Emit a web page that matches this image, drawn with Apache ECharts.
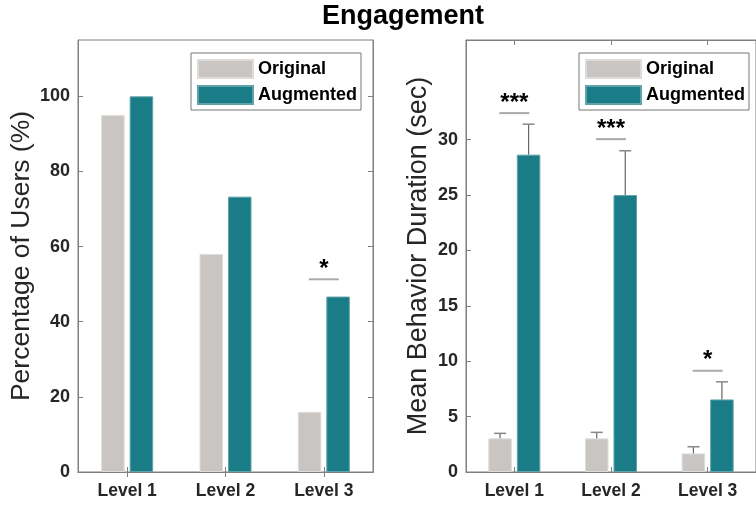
<!DOCTYPE html>
<html>
<head>
<meta charset="utf-8">
<script src="https://cdn.jsdelivr.net/npm/echarts@6/dist/echarts.min.js"></script>
<style>
html, body { margin: 0; padding: 0; background: #fff; }
#main { width: 756px; height: 505px; }
</style>
</head>
<body>
<div id="main"></div>
<script>
var categories = ['Level 1', 'Level 2', 'Level 3'];
var seriesNames = ['Original', 'Augmented'];

// left: percentage of users
var pctTicks = [0, 20, 40, 60, 80, 100];
var pctOriginal = [95, 58, 16];
var pctAugmented = [100, 73.3, 46.7];
var pctSig = [[2, 51.3, '*']];

// right: mean behavior duration
var durTicks = [0, 5, 10, 15, 20, 25, 30];
var durOriginal = [3.04, 3.04, 1.68];
var durOriginalErr = [0.45, 0.54, 0.6];
var durAugmented = [28.65, 25.0, 6.55];
var durAugmentedErr = [2.75, 4.0, 1.59];
var durSig = [[0, 32.4, '***'], [1, 30.05, '***'], [2, 9.14, '*']];

var FONT = 'Liberation Sans, Arial, Helvetica, sans-serif';
var TXT = '#262626';
var AXC = '#808080';
var BAR_W = 23.5;
var GAP_PX = 5;
var OFF = (BAR_W + GAP_PX) / 2;

var myChart = echarts.init(document.getElementById('main'));

function errItems(vals, errs) {
	var out = [];
	for (var i = 0; i < vals.length; i++) out.push([i, vals[i], errs[i]]);
	return out;
}

function errRender(shift) {
	return function (params, api) {
		var c = api.value(0), v = api.value(1), e = api.value(2);
		var p0 = api.coord([c, v]);
		var p1 = api.coord([c, v + e]);
		var x = p0[0] + shift;
		return {
			type: 'group',
			children: [
				{ type: 'line', shape: { x1: x, y1: p0[1], x2: x, y2: p1[1] }, style: { stroke: '#666', lineWidth: 1.2 } },
				{ type: 'line', shape: { x1: x - 6, y1: p1[1], x2: x + 6, y2: p1[1] }, style: { stroke: '#888', lineWidth: 1.5 } }
			]
		};
	};
}

function sigRender(params, api) {
	var p = api.coord([api.value(0), api.value(1)]);
	var lbl = api.value(2);
	return {
		type: 'group',
		children: [
			{ type: 'line', shape: { x1: p[0] - 15, y1: p[1], x2: p[0] + 15, y2: p[1] }, style: { stroke: '#aaa', lineWidth: 2 } },
			{ type: 'text', x: p[0], y: p[1] - 10, style: { text: lbl, fontSize: 24, fontWeight: 'bold', fontFamily: FONT, fill: '#000', align: 'center', verticalAlign: 'middle' } }
		]
	};
}

function catAxis(grid, pos, labels) {
	return {
		type: 'category', gridIndex: grid, position: pos, data: categories,
		axisLine: { show: true, lineStyle: { color: AXC, width: 1 } },
		axisTick: { show: true, inside: true, alignWithLabel: true, length: 5, lineStyle: { color: AXC } },
		axisLabel: { show: labels, margin: 10, fontSize: 17.5, fontWeight: 'bold', color: TXT, fontFamily: FONT },
		splitLine: { show: false }
	};
}

function valAxis(grid, pos, max, ticks, labels, name, gap, nameSize) {
	return {
		type: 'value', gridIndex: grid, position: pos, min: 0, max: max,
		name: name, nameLocation: 'middle', nameGap: gap,
		nameTextStyle: { fontSize: nameSize, color: TXT, fontFamily: FONT },
		axisLine: { show: true, lineStyle: { color: AXC, width: 1 } },
		axisTick: { show: true, inside: true, length: 5, customValues: ticks, lineStyle: { color: AXC } },
		axisLabel: { show: labels, customValues: ticks, margin: 8, fontSize: 18, fontWeight: 'bold', color: TXT, fontFamily: FONT },
		splitLine: { show: false }
	};
}

function legendAt(left) {
	return {
		data: seriesNames, orient: 'vertical', left: left, top: 53,
		padding: [6, 4, 5, 6], itemWidth: 55, itemHeight: 18, itemGap: 6,
		icon: 'rect', borderColor: '#777', borderWidth: 1, backgroundColor: '#fff',
		textStyle: { fontSize: 18, fontWeight: 'bold', color: '#000', fontFamily: FONT },
		selectedMode: false
	};
}

var origStyle = { color: '#c8c5c2', borderColor: '#dedcda', borderWidth: 1 };
var augStyle = { color: '#1a7c86', borderColor: '#5fa3a9', borderWidth: 1 };

var option = {
	backgroundColor: '#fff',
	animation: false,
	textStyle: { fontFamily: FONT },
	title: {
		text: 'Engagement', left: 322, top: 3, padding: 0,
		textStyle: { fontSize: 27, fontWeight: 'bold', color: '#000', fontFamily: FONT }
	},
	legend: [legendAt(191), legendAt(579)],
	grid: [
		{ left: 78, top: 40, right: 383, bottom: 33, show: true, borderColor: AXC, borderWidth: 1 },
		{ left: 466, top: 40, right: -7, bottom: 33, show: true, borderColor: AXC, borderWidth: 1 }
	],
	xAxis: [
		catAxis(0, 'bottom', true),
		catAxis(0, 'top', false),
		catAxis(1, 'bottom', true),
		catAxis(1, 'top', false)
	],
	yAxis: [
		valAxis(0, 'left', 115, pctTicks, true, 'Percentage of Users (%)', 43, 26.5),
		valAxis(0, 'right', 115, pctTicks, false, '', 0, 12),
		valAxis(1, 'left', 39, durTicks, true, 'Mean Behavior Duration (sec)', 34, 27)
	],
	series: [
		{ name: 'Original', type: 'bar', xAxisIndex: 0, yAxisIndex: 0, data: pctOriginal, barWidth: BAR_W, barGap: (GAP_PX / BAR_W * 100) + '%', itemStyle: origStyle },
		{ name: 'Augmented', type: 'bar', xAxisIndex: 0, yAxisIndex: 0, data: pctAugmented, barWidth: BAR_W, itemStyle: augStyle },
		{ name: 'Original', type: 'bar', xAxisIndex: 2, yAxisIndex: 2, data: durOriginal, barWidth: BAR_W, barGap: (GAP_PX / BAR_W * 100) + '%', itemStyle: origStyle },
		{ name: 'Augmented', type: 'bar', xAxisIndex: 2, yAxisIndex: 2, data: durAugmented, barWidth: BAR_W, itemStyle: augStyle },
		{ type: 'custom', xAxisIndex: 2, yAxisIndex: 2, data: errItems(durOriginal, durOriginalErr), renderItem: errRender(-OFF), z: 5, encode: { x: 0, y: 1 } },
		{ type: 'custom', xAxisIndex: 2, yAxisIndex: 2, data: errItems(durAugmented, durAugmentedErr), renderItem: errRender(OFF), z: 5, encode: { x: 0, y: 1 } },
		{ type: 'custom', xAxisIndex: 0, yAxisIndex: 0, data: pctSig, renderItem: sigRender, z: 5, encode: { x: 0, y: 1 } },
		{ type: 'custom', xAxisIndex: 2, yAxisIndex: 2, data: durSig, renderItem: sigRender, z: 5, encode: { x: 0, y: 1 } }
	]
};
myChart.setOption(option);
</script>
</body>
</html>
